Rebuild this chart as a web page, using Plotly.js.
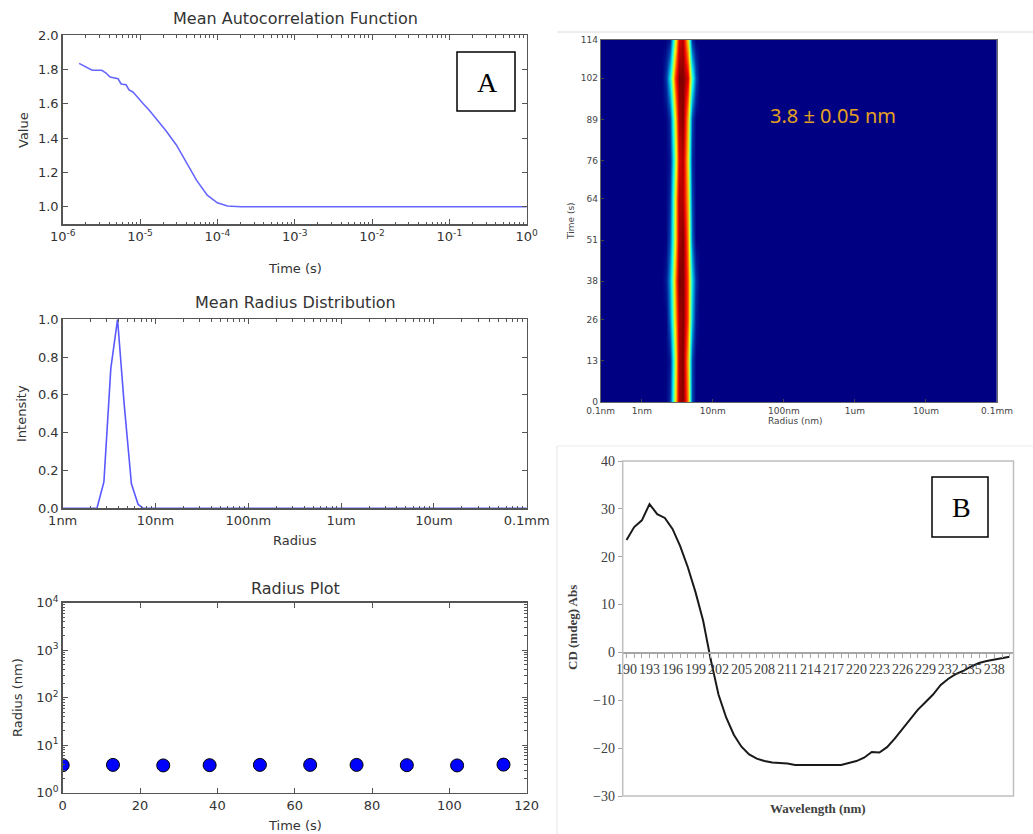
<!DOCTYPE html>
<html><head><meta charset="utf-8">
<script src="https://cdn.plot.ly/plotly-3.0.1.min.js"></script>
<style>html,body{margin:0;padding:0;background:#fff}#chart{width:1033px;height:834px}</style>
</head><body><div id="chart"></div>
<script>
// ---------- Panel A (top-left): Mean Autocorrelation Function ----------
const acfTime = [1.63e-6,2.4e-6,3.2e-6,3.6e-6,4.1e-6,4.7e-6,5.2e-6,5.7e-6,6.6e-6,7.2e-6,8.0e-6,8.6e-6,9.4e-6,1.0e-5,1.1e-5,1.3e-5,1.58e-5,2.14e-5,2.95e-5,3.98e-5,5.37e-5,7.4e-5,1.0e-4,1.35e-4,2.0e-4,1e-3,1e-2,1e-1,1];
const acfValue = [1.835,1.795,1.795,1.78,1.755,1.75,1.745,1.715,1.71,1.68,1.67,1.655,1.635,1.615,1.6,1.565,1.52,1.445,1.36,1.26,1.155,1.068,1.023,1.005,1.0,1.0,1.0,1.0,1.0];
const acfTickVals = [1e-6,1e-5,1e-4,1e-3,1e-2,1e-1,1];
const acfTickText = ['10<sup>-6</sup>','10<sup>-5</sup>','10<sup>-4</sup>','10<sup>-3</sup>','10<sup>-2</sup>','10<sup>-1</sup>','10<sup>0</sup>'];
const acfYTicks = [1.0,1.2,1.4,1.6,1.8,2.0];

// ---------- Mean Radius Distribution ----------
const distRadius = [1,2.34,2.78,3.3,3.9,4.6,5.5,6.5,7.4,10,100,1000,10000,100000];
const distIntensity = [0,0,0.14,0.74,1.0,0.55,0.13,0.02,0,0,0,0,0,0];
const distTickVals = [1,10,100,1000,10000,100000];
const distTickText = ['1nm','10nm','100nm','1um','10um','0.1mm'];
const distYTicks = [0,0.2,0.4,0.6,0.8,1.0];

// ---------- Radius Plot ----------
const rpTime = [0,13,26,38,51,64,76,89,102,114];
const rpRadius = [3.8,3.85,3.75,3.8,3.85,3.85,3.85,3.8,3.75,3.9];
const rpYTickVals = [1,10,100,1000,10000];
const rpYTickText = ['10<sup>0</sup>','10<sup>1</sup>','10<sup>2</sup>','10<sup>3</sup>','10<sup>4</sup>'];
const rpXTicks = [0,20,40,60,80,100,120];

// ---------- Heatmap (top-right) ----------
const hmTime = [0,13,26,38,51,64,76,89,102,114];
const hmRadius = [2.19,2.51,2.88,3.31,3.80,4.37,5.01,5.75,6.61];
const hmIntensity = [
  [0,0.10,0.60,0.95,1.00,0.75,0.15,0,0],
  [0,0.05,0.55,0.95,1.00,0.70,0.15,0,0],
  [0,0.20,0.65,0.95,1.00,0.80,0.30,0.05,0],
  [0.05,0.25,0.70,1.00,1.00,0.80,0.35,0.10,0],
  [0,0.15,0.60,0.95,1.00,0.75,0.20,0,0],
  [0,0.10,0.60,0.95,0.95,0.70,0.15,0,0],
  [0,0.05,0.50,0.90,0.95,0.65,0.10,0,0],
  [0,0.10,0.60,0.95,1.00,0.70,0.15,0,0],
  [0.10,0.35,0.80,1.00,1.00,0.90,0.45,0.15,0],
  [0,0.05,0.55,0.90,0.95,0.65,0.10,0,0]
];
const hmEmptyRadius = [0.2,1.9,7.6,200000];   // bins with zero intensity outside the band
const hmXTickRadius = [0.264,1,10,100,1000,10000,100000];
const hmXTickText = ['0.1nm','1nm','10nm','100nm','1um','10um','0.1mm'];
const hmRange = [0.264,100000];
const hmLabel = '3.8 ± 0.05 nm';

// ---------- CD spectrum (bottom-right) ----------
const cdWavelength = [190,191,192,193,194,195,196,197,198,199,200,201,202,203,204,205,206,207,208,209,210,211,212,213,214,215,216,217,218,219,220,221,222,223,224,225,226,227,228,229,230,231,232,233,234,235,236,237,238,239,240];
const cdValue = [23.5,26.2,27.6,31.0,28.9,28.1,25.8,22.2,17.8,12.6,6.6,-1.6,-8.8,-13.6,-17.2,-19.7,-21.3,-22.2,-22.7,-23.0,-23.1,-23.2,-23.5,-23.5,-23.5,-23.5,-23.5,-23.5,-23.5,-23.1,-22.7,-22.0,-20.8,-20.9,-19.8,-18.0,-16.0,-13.8,-12.0,-10.4,-8.8,-6.8,-5.5,-4.5,-3.8,-2.9,-2.2,-1.8,-1.5,-1.2,-0.9];
const cdTickVals = [190,193,196,199,202,205,208,211,214,217,220,223,226,229,232,235,238];
const cdYTicks = [-30,-20,-10,0,10,20,30,40];

// ---------- build ----------
const W = 1033, H = 834;
const px = v => v / W;
const py = v => 1 - v / H;
const minorLog = (lo, hi) => { const a = []; for (let e = lo; e < hi; e++) for (let m = 2; m < 10; m++) a.push(m * Math.pow(10, e)); return a; };

const mplFont = {family: 'DejaVu Sans', size: 13, color: '#333'};
const frame = {showline: true, linecolor: '#555', linewidth: 1.5, mirror: 'allticks', ticks: 'inside', ticklen: 5, tickcolor: '#555', showgrid: false, zeroline: false, tickfont: mplFont};

const hmX = [hmEmptyRadius[0], hmEmptyRadius[1]].concat(hmRadius, [hmEmptyRadius[2], hmEmptyRadius[3]]).map(Math.log10);
const hmZ = hmIntensity.map(r => [0, 0].concat(r, [0, 0]));

const traces = [
  {x: acfTime, y: acfValue, xaxis: 'x', yaxis: 'y', mode: 'lines', line: {color: 'rgba(0,0,255,0.6)', width: 1.6}, hoverinfo: 'skip'},
  {x: distRadius, y: distIntensity, xaxis: 'x2', yaxis: 'y2', mode: 'lines', line: {color: 'rgba(0,0,255,0.65)', width: 1.6}, hoverinfo: 'skip'},
  {x: rpTime, y: rpRadius, xaxis: 'x3', yaxis: 'y3', mode: 'markers', marker: {size: 13, color: 'rgb(0,0,255)', line: {color: '#000', width: 1}}, hoverinfo: 'skip'},
  {x: hmX, y: hmTime, z: hmZ, type: 'heatmap', xaxis: 'x4', yaxis: 'y4', colorscale: 'Jet', zmin: 0, zmax: 1, zsmooth: 'best', showscale: false, hoverinfo: 'skip'},
  {x: cdWavelength, y: cdValue, xaxis: 'x5', yaxis: 'y5', mode: 'lines', line: {color: '#1a1a1a', width: 2}, hoverinfo: 'skip'}
];

const d1y = [py(224), py(35)], d2y = [py(508.3), py(319.3)], d3y = [py(792.7), py(602.7)];
const dLx = [px(62.7), px(526.7)];
const d4x = [px(600.7), px(997)], d4y = [py(402), py(40)];
const d5x = [px(622.7), px(1013.5)], d5y = [py(796), py(461)];
const cdZeroPos = d5y[0] + (0 - (-30)) / (40 - (-30)) * (d5y[1] - d5y[0]);

const smallFont = {family: 'DejaVu Sans', size: 9, color: '#444'};
const serif = {family: 'Liberation Serif', size: 14, color: '#404040'};

const layout = {
  width: W, height: H, margin: {l: 0, r: 0, t: 0, b: 0},
  paper_bgcolor: '#fff', plot_bgcolor: 'rgba(0,0,0,0)', showlegend: false,
  font: mplFont,
  xaxis: Object.assign({}, frame, {domain: dLx, anchor: 'y', type: 'log', range: [-6, 0], tickmode: 'array', tickvals: acfTickVals, ticktext: acfTickText,
    minor: {tickmode: 'array', tickvals: minorLog(-6, 0), ticks: 'inside', ticklen: 2.5, tickcolor: '#555', showgrid: false}}),
  yaxis: Object.assign({}, frame, {domain: d1y, anchor: 'x', range: [0.9, 2.0], tickmode: 'array', tickvals: acfYTicks, tickformat: '.1f'}),
  xaxis2: Object.assign({}, frame, {domain: dLx, anchor: 'y2', type: 'log', range: [0, 5], tickmode: 'array', tickvals: distTickVals, ticktext: distTickText,
    minor: {tickmode: 'array', tickvals: minorLog(0, 5), ticks: 'inside', ticklen: 2.5, tickcolor: '#555', showgrid: false}}),
  yaxis2: Object.assign({}, frame, {domain: d2y, anchor: 'x2', range: [0, 1], tickmode: 'array', tickvals: distYTicks, tickformat: '.1f'}),
  xaxis3: Object.assign({}, frame, {domain: dLx, anchor: 'y3', range: [0, 120], tickmode: 'array', tickvals: rpXTicks}),
  yaxis3: Object.assign({}, frame, {domain: d3y, anchor: 'x3', type: 'log', range: [0, 4], tickmode: 'array', tickvals: rpYTickVals, ticktext: rpYTickText,
    minor: {tickmode: 'array', tickvals: minorLog(0, 4), ticks: 'inside', ticklen: 2.5, tickcolor: '#555', showgrid: false}}),
  xaxis4: {domain: d4x, anchor: 'y4', range: hmRange.map(Math.log10), tickmode: 'array', tickvals: hmXTickRadius.map(Math.log10), ticktext: hmXTickText,
    showline: true, mirror: true, linecolor: '#666', linewidth: 1, ticks: 'inside', ticklen: 3, tickcolor: '#444', showgrid: false, zeroline: false, tickfont: smallFont},
  yaxis4: {domain: d4y, anchor: 'x4', range: [0, 114], tickmode: 'array', tickvals: hmTime,
    showline: true, mirror: true, linecolor: '#666', linewidth: 1, ticks: 'inside', ticklen: 3, tickcolor: '#444', showgrid: false, zeroline: false, tickfont: smallFont},
  xaxis5: {domain: d5x, anchor: 'free', position: cdZeroPos, range: [189.5, 240.5], tickmode: 'array', tickvals: cdTickVals, tickangle: 0,
    showline: true, linecolor: '#a6a6a6', linewidth: 1.2, ticks: 'outside', ticklen: 4, tickcolor: '#a6a6a6', showgrid: false, zeroline: false, tickfont: serif,
    minor: {dtick: 1, tick0: 190, ticks: 'outside', ticklen: 4, tickcolor: '#a6a6a6', showgrid: false}},
  yaxis5: {domain: d5y, anchor: 'x5', range: [-30, 40], tickmode: 'array', tickvals: cdYTicks,
    showline: false, ticks: 'outside', ticklen: 4, tickcolor: '#a6a6a6', showgrid: false, zeroline: false, tickfont: serif},
  shapes: [
    {type: 'rect', xref: 'x5 domain', yref: 'y5 domain', x0: 0, x1: 1, y0: 0, y1: 1, line: {color: '#bfbfbf', width: 1.5}},
    {type: 'rect', xref: 'paper', yref: 'paper', x0: px(457), x1: px(515), y0: py(111), y1: py(52), line: {color: '#000', width: 1.5}, fillcolor: '#fff'},
    {type: 'rect', xref: 'paper', yref: 'paper', x0: px(932), x1: px(988), y0: py(537), y1: py(477), line: {color: '#000', width: 1.5}, fillcolor: '#fff'},
    {type: 'line', xref: 'paper', yref: 'paper', x0: px(557), x1: 1, y0: py(32), y1: py(32), line: {color: '#dcdcdc', width: 1}},
    {type: 'line', xref: 'paper', yref: 'paper', x0: px(557), x1: 1, y0: py(446), y1: py(446), line: {color: '#ececec', width: 1}},
    {type: 'line', xref: 'paper', yref: 'paper', x0: px(557), x1: px(557), y0: 0, y1: py(446), line: {color: '#e6e6e6', width: 1}}
  ],
  annotations: [
    {text: 'Mean Autocorrelation Function', x: px(295), y: py(19), font: {family: 'DejaVu Sans', size: 16, color: '#333'}},
    {text: 'Time (s)', x: px(295), y: py(268)},
    {text: 'Value', x: px(23), y: py(130), textangle: -90},
    {text: 'Mean Radius Distribution', x: px(295), y: py(303), font: {family: 'DejaVu Sans', size: 16, color: '#333'}},
    {text: 'Radius', x: px(295), y: py(540)},
    {text: 'Intensity', x: px(21), y: py(414), textangle: -90},
    {text: 'Radius Plot', x: px(295), y: py(588), font: {family: 'DejaVu Sans', size: 16, color: '#333'}},
    {text: 'Time (s)', x: px(295), y: py(825)},
    {text: 'Radius (nm)', x: px(17), y: py(698), textangle: -90},
    {text: 'A', x: px(487), y: py(82), font: {family: 'Liberation Serif', size: 28, color: '#000'}},
    {text: hmLabel, x: px(833), y: py(115), font: {family: 'Noto Sans', size: 20, color: 'rgb(228,160,30)'}},
    {text: 'Time (s)', x: px(571), y: py(221), textangle: -90, font: smallFont},
    {text: 'Radius (nm)', x: px(795), y: py(421), font: smallFont},
    {text: 'B', x: px(961), y: py(507), font: {family: 'Liberation Serif', size: 28, color: '#000'}},
    {text: '<b>CD (mdeg) Abs</b>', x: px(572), y: py(628), textangle: -90, font: {family: 'Liberation Serif', size: 13, color: '#404040'}},
    {text: '<b>Wavelength (nm)</b>', x: px(818), y: py(808), font: {family: 'Liberation Serif', size: 13, color: '#404040'}}
  ].map(a => Object.assign({xref: 'paper', yref: 'paper', showarrow: false, xanchor: 'center', yanchor: 'middle'}, a))
};

Plotly.newPlot('chart', traces, layout, {displayModeBar: false, staticPlot: true});
</script></body></html>
